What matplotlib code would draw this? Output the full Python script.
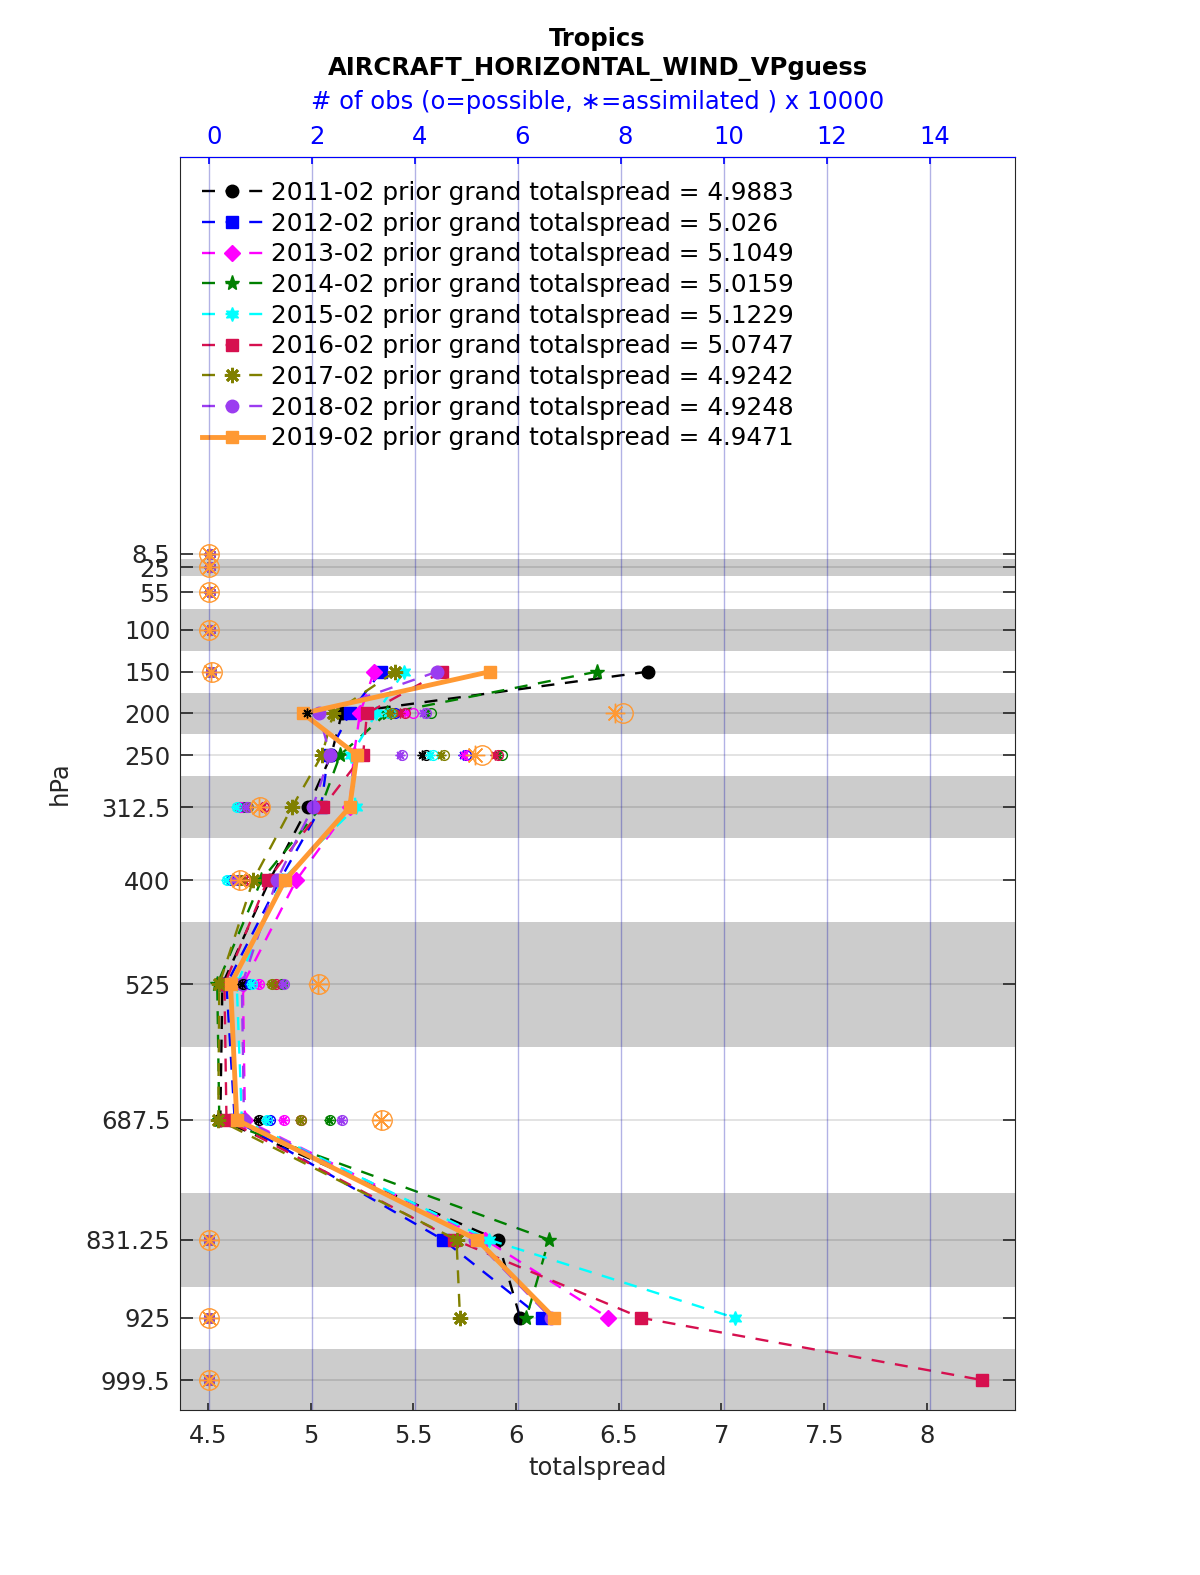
import matplotlib
matplotlib.use('Agg')
import matplotlib.pyplot as plt
from matplotlib.ticker import FormatStrFormatter
from matplotlib.transforms import ScaledTranslation
import numpy as np

nan = np.nan

# ---------------- data ----------------
levels = [8.5, 25, 55, 100, 150, 200, 250, 312.5, 400, 525, 687.5, 831.25, 925, 999.5]
level_labels = ['8.5', '25', '55', '100', '150', '200', '250', '312.5', '400',
                '525', '687.5', '831.25', '925', '999.5']
band_edges = [(15, 35), (75, 125), (175, 225), (275, 350), (450, 600),
              (775, 887.5), (962.5, 1037)]

years = ['2011-02', '2012-02', '2013-02', '2014-02', '2015-02',
         '2016-02', '2017-02', '2018-02', '2019-02']
grand_spread = ['4.9883', '5.026', '5.1049', '5.0159', '5.1229',
                '5.0747', '4.9242', '4.9248', '4.9471']

spread_2011 = [nan, nan, nan, nan, 6.642, 5.152, 5.100, 4.987, 4.800, 4.570, 4.560, 5.910, 6.020, nan]
spread_2012 = [nan, nan, nan, nan, 5.342, 5.190, 5.085, 5.050, 4.850, 4.590, 4.630, 5.644, 6.125, nan]
spread_2013 = [nan, nan, nan, nan, 5.308, 5.240, 5.210, 5.190, 4.930, 4.670, 4.680, 5.850, 6.450, nan]
spread_2014 = [nan, nan, nan, nan, 6.394, 5.370, 5.143, 5.050, 4.760, 4.545, 4.555, 6.160, 6.050, nan]
spread_2015 = [nan, nan, nan, nan, 5.454, 5.320, 5.196, 5.220, 4.860, 4.640, 4.665, 5.868, 7.066, nan]
spread_2016 = [nan, nan, nan, nan, 5.640, 5.274, 5.255, 5.060, 4.790, 4.580, 4.590, 5.700, 6.610, 8.268]
spread_2017 = [nan, nan, nan, nan, 5.410, 5.110, 5.055, 4.909, 4.720, 4.555, 4.550, 5.710, 5.727, nan]
spread_2018 = [nan, nan, nan, nan, 5.615, 5.040, 5.094, 5.010, 4.835, 4.665, 4.675, 5.800, 6.170, nan]
spread_2019 = [nan, nan, nan, nan, 5.873, 4.962, 5.225, 5.190, 4.875, 4.610, 4.640, 5.810, 6.185, nan]

# number of obs (x 10000): possible and assimilated
poss_2011 = [0.01, 0.01, 0.01, 0.01, 0.02, 3.50, 4.20, 0.60, 0.45, 0.65, 0.97, 0.0, 0.0, 0.0]
assim_2011 = [0.0, 0.0, 0.0, 0.0, 0.02, 1.90, 4.13, 0.58, 0.43, 0.63, 0.95, 0.0, 0.0, 0.0]
poss_2012 = [0.01, 0.01, 0.01, 0.01, 0.02, 3.60, 4.98, 0.65, 0.42, 0.78, 1.17, 0.0, 0.0, 0.0]
assim_2012 = [0.0, 0.0, 0.0, 0.0, 0.02, 3.50, 4.93, 0.63, 0.40, 0.76, 1.15, 0.0, 0.0, 0.0]
poss_2013 = [0.01, 0.01, 0.01, 0.01, 0.02, 3.95, 5.02, 0.62, 0.50, 0.96, 1.45, 0.0, 0.0, 0.0]
assim_2013 = [0.0, 0.0, 0.0, 0.0, 0.02, 3.80, 4.95, 0.60, 0.48, 0.94, 1.43, 0.0, 0.0, 0.0]
poss_2014 = [0.01, 0.01, 0.01, 0.01, 0.02, 4.30, 5.68, 0.70, 0.55, 1.40, 2.34, 0.0, 0.0, 0.0]
assim_2014 = [0.0, 0.0, 0.0, 0.0, 0.02, 4.20, 5.60, 0.68, 0.53, 1.38, 2.32, 0.0, 0.0, 0.0]
poss_2015 = [0.01, 0.01, 0.01, 0.01, 0.02, 3.50, 4.34, 0.53, 0.34, 0.82, 1.11, 0.0, 0.0, 0.0]
assim_2015 = [0.0, 0.0, 0.0, 0.0, 0.02, 3.45, 4.28, 0.51, 0.32, 0.80, 1.09, 0.0, 0.0, 0.0]
poss_2016 = [0.01, 0.01, 0.01, 0.01, 0.02, 3.80, 5.60, 1.05, 0.69, 1.29, 1.78, 0.0, 0.0, 0.0]
assim_2016 = [0.0, 0.0, 0.0, 0.0, 0.02, 3.70, 5.55, 1.02, 0.67, 1.27, 1.76, 0.0, 0.0, 0.0]
poss_2017 = [0.01, 0.01, 0.01, 0.01, 0.02, 3.55, 4.56, 0.75, 0.62, 1.21, 1.78, 0.0, 0.0, 0.0]
assim_2017 = [0.0, 0.0, 0.0, 0.0, 0.02, 3.50, 4.50, 0.73, 0.60, 1.19, 1.76, 0.0, 0.0, 0.0]
poss_2018 = [0.01, 0.01, 0.01, 0.01, 0.02, 4.20, 3.74, 0.73, 0.50, 1.44, 2.58, 0.0, 0.0, 0.0]
assim_2018 = [0.0, 0.0, 0.0, 0.0, 0.02, 4.15, 3.70, 0.71, 0.48, 1.42, 2.56, 0.0, 0.0, 0.0]
poss_2019 = [0.0, 0.0, 0.0, 0.0, 0.05, 8.04, 5.30, 0.98, 0.60, 2.13, 3.35, 0.0, 0.0, 0.0]
assim_2019 = [0.0, 0.0, 0.0, 0.0, 0.03, 7.88, 5.16, 0.96, 0.58, 2.11, 3.33, 0.0, 0.0, 0.0]

spreads = [spread_2011, spread_2012, spread_2013, spread_2014, spread_2015,
           spread_2016, spread_2017, spread_2018, spread_2019]
possibles = [poss_2011, poss_2012, poss_2013, poss_2014, poss_2015,
             poss_2016, poss_2017, poss_2018, poss_2019]
assims = [assim_2011, assim_2012, assim_2013, assim_2014, assim_2015,
          assim_2016, assim_2017, assim_2018, assim_2019]

bottom_ticks = [4.5, 5, 5.5, 6, 6.5, 7, 7.5, 8]
top_ticks = [0, 2, 4, 6, 8, 10, 12, 14]

# ---------------- styles ----------------
colors = ['#000000', '#0000ff', '#ff00ff', '#008000', '#00ffff',
          '#d6104f', '#808000', '#9b3cf0', '#ff9933']
markers = ['o', 's', 'D', '*', (6, 1, 0), 's', (8, 2, 0), 'o', 's']
msizes = [9, 8, 8, 11, 10, 8, 11, 9, 8]

FS = 17.5
plt.rcParams['font.family'] = ['DejaVu Sans']

fig = plt.figure(figsize=(12, 15.75), dpi=100)
ax = fig.add_axes([0.15, 0.1048, 0.6958, 0.7955])

ax.set_xlim(4.3637, 8.429)
ax.set_ylim(1035.4, -467.2)

for lo, hi in band_edges:
    ax.axhspan(lo, hi, color='#cccccc', zorder=0.2, lw=0)

handles = []
for i in range(9):
    ls = '-' if i == 8 else '--'
    lw = 3.5 if i == 8 else 1.7
    mew = 2.0 if i == 6 else 1.0
    h, = ax.plot(spreads[i], levels, color=colors[i], ls=ls, lw=lw,
                 marker=markers[i], ms=msizes[i], mfc=colors[i], mec=colors[i],
                 mew=mew, zorder=3,
                 label=f'{years[i]} prior grand totalspread = {grand_spread[i]}')
    if i < 8:
        h.set_dashes((5.5, 4.5))
    handles.append(h)

ax.set_yticks(levels)
ax.set_yticklabels(level_labels)
ax.set_xticks(bottom_ticks)
ax.xaxis.set_major_formatter(FormatStrFormatter('%g'))
ax.grid(axis='y', color='k', alpha=0.13, lw=1.2)
ax.set_axisbelow(True)
ax.tick_params(axis='y', direction='in', length=9, width=1.2, pad=7,
               labelsize=FS, right=True, left=True)
ax.tick_params(axis='x', direction='in', length=5, width=1.2, pad=10,
               labelsize=FS, top=False)
ax.set_xlabel('totalspread', fontsize=FS, color='#262626', labelpad=6)
ax.set_ylabel('hPa', fontsize=FS, color='#262626', labelpad=10)
for sp in ['left', 'bottom', 'right']:
    ax.spines[sp].set_color('#262626')
ax.tick_params(colors='#262626')

leg = ax.legend(handles=handles, loc='upper left', bbox_to_anchor=(0.0263, 0.981),
                frameon=False, fontsize=FS + 0.3, handlelength=2.45,
                handletextpad=0.33, labelspacing=0.27, borderpad=0,
                borderaxespad=0)

# ---------------- obs axis ----------------
ax2 = ax.twiny()
ax2.set_xlim(-0.573, 15.65)
ax2.set_xticks(top_ticks)
ax2.grid(axis='x', color='#0000aa', alpha=0.3, lw=1.0)
ax2.tick_params(axis='x', direction='in', length=5, width=1.2, pad=6,
                labelsize=FS, colors='#0000ff')
ax2.spines['top'].set_color('#0000ff')
for sp in ['left', 'bottom', 'right']:
    ax2.spines[sp].set_visible(False)
shift = ScaledTranslation(3 / 72, 0, fig.dpi_scale_trans)
for lab in ax2.get_xticklabels():
    lab.set_transform(lab.get_transform() + shift)

for i in range(9):
    big = (i == 8)
    ms = 14 if big else 7
    ax2.plot(possibles[i], levels, ls='none', marker='o', ms=ms,
             mfc='none', mec=colors[i], mew=1.0, zorder=4)
    ax2.plot(assims[i], levels, ls='none', marker=(8, 2, 0), ms=ms,
             mec=colors[i], mew=1.0, zorder=4)

fig.text(0.4979, 1 - 39 / 1575, 'Tropics', ha='center', va='center',
         fontsize=FS, fontweight='bold')
fig.text(0.4979, 1 - 69 / 1575, 'AIRCRAFT_HORIZONTAL_WIND_VPguess', ha='center',
         va='center', fontsize=FS, fontweight='bold')
fig.text(0.4979, 1 - 102 / 1575,
         '# of obs (o=possible, \u2217=assimilated ) x 10000', ha='center',
         va='center', fontsize=FS, color='#0000ff')

fig.savefig('out.png', dpi=100)
